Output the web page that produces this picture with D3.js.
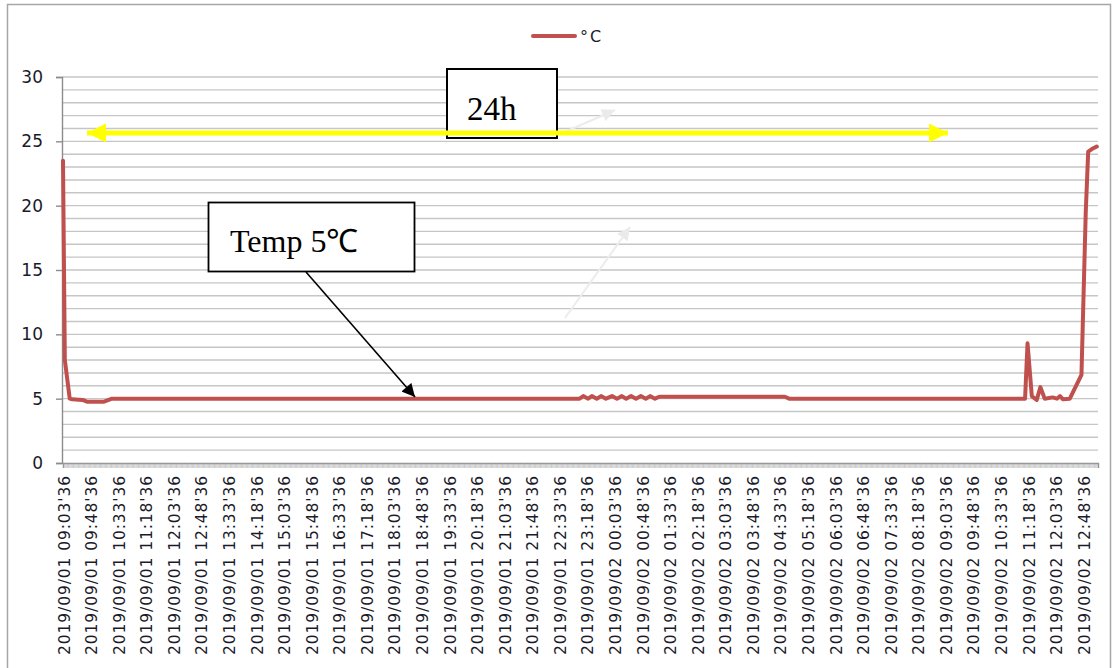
<!DOCTYPE html>
<html><head><meta charset="utf-8">
<script src="https://cdn.jsdelivr.net/npm/d3@7"></script>
<style>
html,body{margin:0;padding:0;background:#fff;}
svg{display:block;}
</style></head>
<body>
<svg id="chart" width="1117" height="668"></svg>
<script>
// ---- data ----
const seriesName = "°C";
const times = [
 "2019/09/01 09:03:36","2019/09/01 09:06:36","2019/09/01 09:14:36","2019/09/01 09:18:36",
 "2019/09/01 09:35:36","2019/09/01 09:42:36","2019/09/01 10:10:36","2019/09/01 10:23:36",
 "2019/09/01 23:06:36","2019/09/01 23:12:36","2019/09/01 23:20:36","2019/09/01 23:26:36",
 "2019/09/01 23:34:36","2019/09/01 23:41:36","2019/09/01 23:49:36","2019/09/01 23:59:36",
 "2019/09/02 00:07:36","2019/09/02 00:15:36","2019/09/02 00:22:36","2019/09/02 00:30:36",
 "2019/09/02 00:38:36","2019/09/02 00:46:36","2019/09/02 00:54:36","2019/09/02 01:01:36",
 "2019/09/02 01:09:36","2019/09/02 01:16:36","2019/09/02 04:41:36","2019/09/02 04:48:36",
 "2019/09/02 11:13:36","2019/09/02 11:17:36","2019/09/02 11:24:36","2019/09/02 11:32:36",
 "2019/09/02 11:38:36","2019/09/02 11:45:36","2019/09/02 11:58:36","2019/09/02 12:05:36",
 "2019/09/02 12:10:36","2019/09/02 12:15:36","2019/09/02 12:26:36","2019/09/02 12:45:36",
 "2019/09/02 12:52:36","2019/09/02 12:56:36","2019/09/02 13:02:36","2019/09/02 13:10:36"
];
const temps = [
 23.5, 8.0, 5.0, 4.95,
 4.9, 4.77, 4.77, 5.0,
 5.0, 5.2, 5.0, 5.2,
 5.0, 5.2, 5.0, 5.2,
 5.0, 5.2, 5.0, 5.2,
 5.0, 5.2, 5.0, 5.2,
 5.0, 5.15, 5.15, 5.0,
 5.0, 9.3, 5.2, 4.9,
 5.9, 5.0, 5.1, 5.0,
 5.2, 4.95, 5.0, 6.85,
 19.5, 24.2, 24.4, 24.6
];
const tickLabels = [
 "2019/09/01 09:03:36","2019/09/01 09:48:36","2019/09/01 10:33:36","2019/09/01 11:18:36",
 "2019/09/01 12:03:36","2019/09/01 12:48:36","2019/09/01 13:33:36","2019/09/01 14:18:36",
 "2019/09/01 15:03:36","2019/09/01 15:48:36","2019/09/01 16:33:36","2019/09/01 17:18:36",
 "2019/09/01 18:03:36","2019/09/01 18:48:36","2019/09/01 19:33:36","2019/09/01 20:18:36",
 "2019/09/01 21:03:36","2019/09/01 21:48:36","2019/09/01 22:33:36","2019/09/01 23:18:36",
 "2019/09/02 00:03:36","2019/09/02 00:48:36","2019/09/02 01:33:36","2019/09/02 02:18:36",
 "2019/09/02 03:03:36","2019/09/02 03:48:36","2019/09/02 04:33:36","2019/09/02 05:18:36",
 "2019/09/02 06:03:36","2019/09/02 06:48:36","2019/09/02 07:33:36","2019/09/02 08:18:36",
 "2019/09/02 09:03:36","2019/09/02 09:48:36","2019/09/02 10:33:36","2019/09/02 11:18:36",
 "2019/09/02 12:03:36","2019/09/02 12:48:36"
];
const yTicks = [0, 5, 10, 15, 20, 25, 30];
const domainStart = "2019/09/01 09:03:36";
const domainEnd = "2019/09/02 13:12:36";
const callouts = [
 {text: "24h"},
 {text: "Temp 5℃"}
];

// ---- drawing ----
const parse = d3.timeParse("%Y/%m/%d %H:%M:%S");
const fmt = d3.timeFormat("%Y/%m/%d %H:%M'%S");
const svg = d3.select("#chart");
const sans = "'DejaVu Sans', Verdana, sans-serif";
const serif = "'Liberation Serif', 'Times New Roman', serif";

const L = 63, R = 1098, T = 77, B = 463;
const x = d3.scaleTime().domain([parse(domainStart), parse(domainEnd)]).range([L, R]);
const y = d3.scaleLinear().domain([0, 30]).range([B, T]);

// outer frame
svg.append("rect").attr("x", 7.5).attr("y", 4.5).attr("width", 1103).attr("height", 680)
  .attr("fill", "none").attr("stroke", "#a6a6a6").attr("stroke-width", 1.5);

// gridlines
svg.append("g").selectAll("line").data(d3.range(1, 31)).join("line")
  .attr("x1", L - 1).attr("x2", R).attr("y1", d => y(d)).attr("y2", d => y(d))
  .attr("stroke", "#c6c6c6").attr("stroke-width", 1.4);

// y axis
const yAxis = d3.axisLeft(y).tickValues(yTicks).tickSize(6).tickPadding(13);
const gy = svg.append("g").attr("transform", `translate(${L - 1},0)`).call(yAxis);
gy.attr("font-size", null).attr("font-family", null);
gy.select(".domain").attr("stroke", "#8c8c8c").attr("stroke-width", 1.4);
gy.selectAll(".tick line").attr("stroke", "#8c8c8c").attr("stroke-width", 1.4);
gy.selectAll(".tick text").style("font-family", sans)
  .style("font-size", "17px").attr("fill", "#1a1a2a");

// x axis minor ticks (every 2 minutes)
const minorTicks = d3.timeMinute.every(2).range(parse(domainStart), parse(domainEnd));
const xAxis = d3.axisBottom(x).tickValues(minorTicks).tickSize(5).tickFormat("");
const gx = svg.append("g").attr("transform", `translate(0,${B})`).call(xAxis);
gx.select(".domain").attr("stroke", "#8c8c8c").attr("stroke-width", 1.4);
gx.selectAll(".tick line").attr("stroke", "#a8a8a8").attr("stroke-width", 0.6);

// x labels
svg.append("g").selectAll("text").data(tickLabels).join("text")
  .attr("transform", d => `translate(${x(parse(d)) + 1.5},${B + 12}) rotate(-90)`)
  .attr("text-anchor", "end").attr("dominant-baseline", "central")
  .style("font-family", sans).style("font-size", "15.5px")
  .style("letter-spacing", "0.9px")
  .attr("fill", "#1a1a2a")
  .text(d => fmt(parse(d)));

// series line
const pts = times.map((t, i) => [parse(t), temps[i]]);
const line = d3.line().x(d => x(d[0])).y(d => y(d[1]));
svg.append("path").datum(pts).attr("d", line).attr("fill", "none")
  .attr("stroke", "#c0504d").attr("stroke-width", 4)
  .attr("stroke-linejoin", "round").attr("stroke-linecap", "round");

// legend
svg.append("line").attr("x1", 533).attr("x2", 575).attr("y1", 36).attr("y2", 36)
  .attr("stroke", "#c0504d").attr("stroke-width", 4).attr("stroke-linecap", "round");
svg.append("text").attr("x", 580).attr("y", 42).style("font-family", sans)
  .style("font-size", "16px").style("letter-spacing", "2px").attr("fill", "#1a1a2a").text(seriesName);

// markers
const defs = svg.append("defs");
function marker(id, color, w, h) {
  defs.append("marker").attr("id", id).attr("viewBox", "0 0 10 10").attr("refX", 10).attr("refY", 5)
    .attr("markerUnits", "userSpaceOnUse").attr("markerWidth", w).attr("markerHeight", h)
    .attr("orient", "auto-start-reverse")
    .append("path").attr("d", "M0,0 L10,5 L0,10 Z").attr("fill", color);
}
marker("arrY", "#ffff00", 19, 19);
marker("arrK", "#000", 14, 13);
marker("arrG", "#eaeaea", 14, 13);

// faint arrows
svg.append("line").attr("x1", 567).attr("y1", 131).attr("x2", 615).attr("y2", 110)
  .attr("stroke", "#ececec").attr("stroke-width", 2).attr("marker-end", "url(#arrG)");
svg.append("line").attr("x1", 565).attr("y1", 318).attr("x2", 630).attr("y2", 227)
  .attr("stroke", "#ececec").attr("stroke-width", 2).attr("marker-end", "url(#arrG)");

// 24h box
svg.append("rect").attr("x", 447).attr("y", 69).attr("width", 110).attr("height", 69)
  .attr("fill", "#fff").attr("stroke", "#000").attr("stroke-width", 2);
svg.append("text").attr("x", 467).attr("y", 120).style("font-family", serif)
  .style("font-size", "33px").attr("fill", "#000").text(callouts[0].text);

// yellow double arrow
svg.append("line").attr("x1", 87).attr("y1", 133).attr("x2", 948).attr("y2", 133)
  .attr("stroke", "#ffff00").attr("stroke-width", 5)
  .attr("marker-start", "url(#arrY)").attr("marker-end", "url(#arrY)");

// Temp box
svg.append("rect").attr("x", 208.5).attr("y", 202.5).attr("width", 206).attr("height", 69)
  .attr("fill", "#fff").attr("stroke", "#000").attr("stroke-width", 1.8);
svg.append("text").attr("x", 230).attr("y", 252).style("font-family", serif)
  .style("font-size", "32px").attr("fill", "#000").text(callouts[1].text);

// black arrow
svg.append("line").attr("x1", 306).attr("y1", 272).attr("x2", 415).attr("y2", 397)
  .attr("stroke", "#000").attr("stroke-width", 1.6).attr("marker-end", "url(#arrK)");
</script>
</body></html>
